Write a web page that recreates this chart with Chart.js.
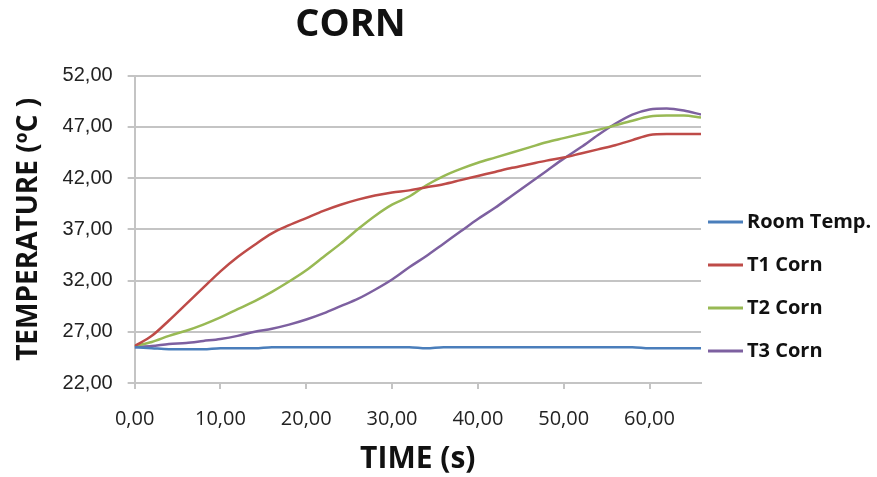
<!DOCTYPE html>
<html>
<head>
<meta charset="utf-8">
<script src="https://cdn.jsdelivr.net/npm/chart.js@4"></script>
<style>
  html, body { margin: 0; padding: 0; background: #fff; }
  #wrap { width: 877px; height: 477px; }
</style>
</head>
<body>
<div id="wrap"><canvas id="corn" width="877" height="477"></canvas></div>
<script>
// time (s)
const times = [0, 2, 4, 6, 8, 10, 12, 14, 16, 18, 20, 22, 24, 26, 28, 30, 32,
  34, 36, 38, 40, 42, 44, 46, 48, 50, 52, 54, 56, 58, 60, 62, 64, 66];

const roomTemp = [25.5, 25.4, 25.3, 25.3, 25.3, 25.4, 25.4, 25.4, 25.5, 25.5, 25.5, 25.5,
  25.5, 25.5, 25.5, 25.5, 25.5, 25.4, 25.5, 25.5, 25.5, 25.5, 25.5, 25.5, 25.5, 25.5,
  25.5, 25.5, 25.5, 25.5, 25.4, 25.4, 25.4, 25.4];

const t1Corn = [25.6, 26.6, 28.1, 29.7, 31.3, 32.9, 34.3, 35.5, 36.6, 37.4, 38.1, 38.8,
  39.4, 39.9, 40.3, 40.6, 40.8, 41.1, 41.4, 41.8, 42.2, 42.6, 43.0, 43.35, 43.7, 44.0,
  44.4, 44.8, 45.2, 45.7, 46.2, 46.3, 46.3, 46.3];

const t2Corn = [25.6, 26.0, 26.6, 27.1, 27.7, 28.4, 29.2, 30.0, 30.9, 31.9, 33.0, 34.3,
  35.6, 37.0, 38.3, 39.4, 40.2, 41.3, 42.2, 42.9, 43.5, 44.0, 44.5, 45.0, 45.5, 45.9,
  46.3, 46.7, 47.15, 47.6, 48.0, 48.1, 48.1, 47.9];

const t3Corn = [25.5, 25.6, 25.8, 25.9, 26.1, 26.3, 26.6, 27.0, 27.3, 27.7, 28.2, 28.8,
  29.5, 30.2, 31.1, 32.1, 33.3, 34.4, 35.6, 36.8, 38.0, 39.1, 40.3, 41.5, 42.7, 43.9,
  45.0, 46.2, 47.3, 48.2, 48.7, 48.8, 48.6, 48.2];

const seriesNames = ['Room Temp.', 'T1 Corn', 'T2 Corn', 'T3 Corn'];
const seriesColors = ['#4A7EBB', '#BE4B48', '#98B954', '#7D60A0'];

const xTicks = [0, 10, 20, 30, 40, 50, 60];
const yTicks = [22, 27, 32, 37, 42, 47, 52];

const fmt = v => v.toFixed(2).replace('.', ',');
const toPoints = arr => arr.map((v, i) => ({ x: times[i], y: v }));

// legend drawn by hand to the right of the plot
const sideLegend = {
  id: 'sideLegend',
  afterDraw(chart) {
    const ctx = chart.ctx;
    const area = chart.chartArea;
    const x0 = area.right + 7;
    ctx.save();
    ctx.font = 'bold 20px "Open Sans"';
    ctx.textBaseline = 'middle';
    chart.data.datasets.forEach((ds, i) => {
      const y = area.bottom - 161 + i * 43;
      ctx.strokeStyle = ds.borderColor;
      ctx.lineWidth = 3;
      ctx.beginPath();
      ctx.moveTo(x0, y);
      ctx.lineTo(x0 + 35, y);
      ctx.stroke();
      ctx.fillStyle = '#111';
      ctx.fillText(ds.label, x0 + 39, y);
    });
    ctx.restore();
  }
};

Chart.defaults.font.family = '"Open Sans", sans-serif';
Chart.defaults.color = '#222';

const ctx = document.getElementById('corn').getContext('2d');
new Chart(ctx, {
  type: 'line',
  data: {
    datasets: [roomTemp, t1Corn, t2Corn, t3Corn].map((arr, i) => ({
      label: seriesNames[i],
      data: toPoints(arr),
      borderColor: seriesColors[i],
      backgroundColor: seriesColors[i],
      borderWidth: 2.5,
      pointRadius: 0,
      cubicInterpolationMode: 'monotone',
      fill: false,
    })),
  },
  options: {
    responsive: false,
    animation: false,
    layout: { padding: { right: 176, left: 0, top: 0, bottom: 0 } },
    scales: {
      x: {
        type: 'linear',
        min: 0,
        max: 66,
        afterBuildTicks: axis => { axis.ticks = xTicks.map(v => ({ value: v })); },
        ticks: {
          callback: v => fmt(v),
          font: { size: 20 },
          color: '#222',
          padding: 18,
          maxRotation: 0,
        },
        grid: {
          drawOnChartArea: false,
          drawTicks: true,
          tickLength: 6,
          color: '#c4c4c4',
          lineWidth: 2,
        },
        border: { color: '#c4c4c4', width: 2 },
        title: {
          display: true,
          text: 'TIME (s)',
          font: { size: 30, weight: 'bold' },
          color: '#111',
          padding: { top: -8, bottom: 0 },
        },
      },
      y: {
        min: 22,
        max: 52,
        afterBuildTicks: axis => { axis.ticks = yTicks.map(v => ({ value: v })); },
        ticks: {
          callback: v => fmt(v),
          font: { size: 20, family: '"Liberation Sans", Arial, sans-serif' },
          color: '#222',
          padding: 15,
        },
        grid: {
          color: '#c4c4c4',
          lineWidth: 2,
          tickLength: 7,
        },
        border: { color: '#c4c4c4', width: 2 },
        title: {
          display: true,
          text: 'TEMPERATURE (ºC )',
          font: { size: 28, weight: 'bold' },
          color: '#111',
          padding: { top: 12, bottom: 2 },
        },
      },
    },
    plugins: {
      legend: { display: false },
      tooltip: { enabled: false },
      title: {
        display: true,
        text: 'CORN',
        font: { size: 38, weight: 'bold' },
        color: '#111',
        padding: { top: 2, bottom: 28 },
      },
    },
  },
  plugins: [sideLegend],
});
</script>
</body>
</html>
